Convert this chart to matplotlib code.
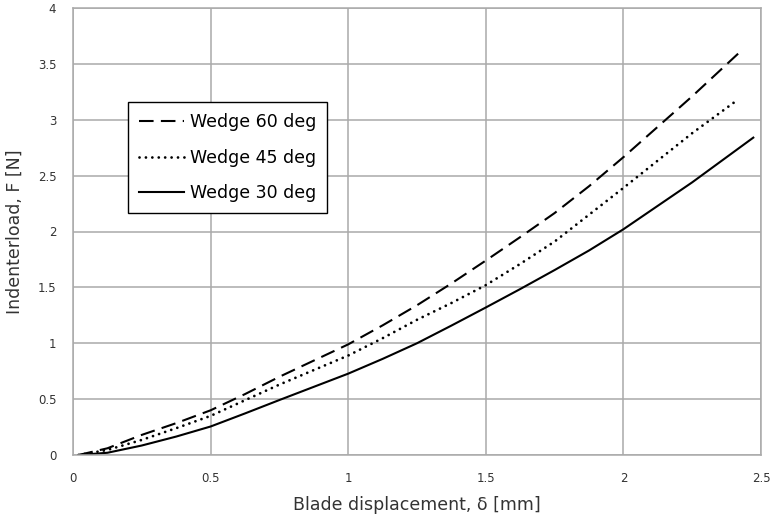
import matplotlib
matplotlib.use("Agg")
import matplotlib.pyplot as plt

# Data
x_60 = [0.02, 0.125, 0.25, 0.375, 0.5, 0.625, 0.75, 0.875, 1.0, 1.125, 1.25, 1.375,
        1.5, 1.625, 1.75, 1.875, 2.0, 2.25, 2.425]
f_60 = [0.0, 0.06, 0.18, 0.285, 0.40, 0.545, 0.70, 0.845, 0.99, 1.16, 1.34, 1.535,
        1.74, 1.95, 2.165, 2.405, 2.665, 3.21, 3.61]

x_45 = [0.02, 0.125, 0.25, 0.375, 0.5, 0.625, 0.75, 0.875, 1.0, 1.125, 1.25, 1.375,
        1.5, 1.625, 1.75, 1.875, 2.0, 2.25, 2.405]
f_45 = [0.0, 0.045, 0.135, 0.24, 0.35, 0.49, 0.63, 0.76, 0.89, 1.045, 1.21, 1.36,
        1.52, 1.71, 1.91, 2.15, 2.39, 2.88, 3.16]

x_30 = [0.02, 0.125, 0.25, 0.375, 0.5, 0.625, 0.75, 0.875, 1.0, 1.125, 1.25, 1.375,
        1.5, 1.625, 1.75, 1.875, 2.0, 2.25, 2.472]
f_30 = [0.0, 0.02, 0.085, 0.165, 0.255, 0.372, 0.492, 0.61, 0.728, 0.86, 1.0, 1.158,
        1.32, 1.485, 1.655, 1.83, 2.02, 2.44, 2.84]

labels = ["Wedge 60 deg", "Wedge 45 deg", "Wedge 30 deg"]
x_ticks = [0, 0.5, 1, 1.5, 2, 2.5]
x_tick_labels = ["0", "0.5", "1", "1.5", "2", "2.5"]
y_ticks = [0, 0.5, 1, 1.5, 2, 2.5, 3, 3.5, 4]
y_tick_labels = ["0", "0.5", "1", "1.5", "2", "2.5", "3", "3.5", "4"]

plt.rcParams['font.family'] = ['DejaVu Sans']

fig = plt.figure(figsize=(7.74, 5.22), dpi=100)
ax = fig.add_axes([73/774, 1-455/522, (761-73)/774, (455-8)/522])

ax.plot(x_60, f_60, color='black', lw=1.5, dashes=(7, 3.5), label=labels[0])
ax.plot(x_45, f_45, color='black', lw=2.0, dashes=(0.01, 2.3), dash_capstyle='round',
        solid_capstyle='round', label=labels[1])
ax.plot(x_30, f_30, color='black', lw=1.5, label=labels[2])

ax.set_xlim(0, 2.5)
ax.set_ylim(0, 4)
ax.set_xticks(x_ticks)
ax.set_xticklabels(x_tick_labels)
ax.set_yticks(y_ticks)
ax.set_yticklabels(y_tick_labels)
ax.tick_params(length=0, labelsize=8.5, colors='#333333')
ax.tick_params(axis='x', pad=12)
ax.tick_params(axis='y', pad=12)

ax.grid(True, color='#aaaaaa', lw=1.1)
ax.set_axisbelow(True)
for s in ax.spines.values():
    s.set_color('#aaaaaa')
    s.set_linewidth(1.1)

ax.set_xlabel("Blade displacement, δ [mm]", fontsize=12.5, color='#333333', labelpad=8)
ax.set_ylabel("Indenterload, F [N]", fontsize=12.5, color='#333333', labelpad=10)

leg = ax.legend(loc='upper left', bbox_to_anchor=((128-73)/688, (455-102)/447),
                frameon=True, fancybox=False, edgecolor='black', framealpha=1,
                fontsize=12.5, handlelength=2.6, handletextpad=0.3,
                borderpad=0.65, labelspacing=1.0, borderaxespad=0)
leg.get_frame().set_linewidth(1.0)

fig.savefig("out.png", dpi=100)
